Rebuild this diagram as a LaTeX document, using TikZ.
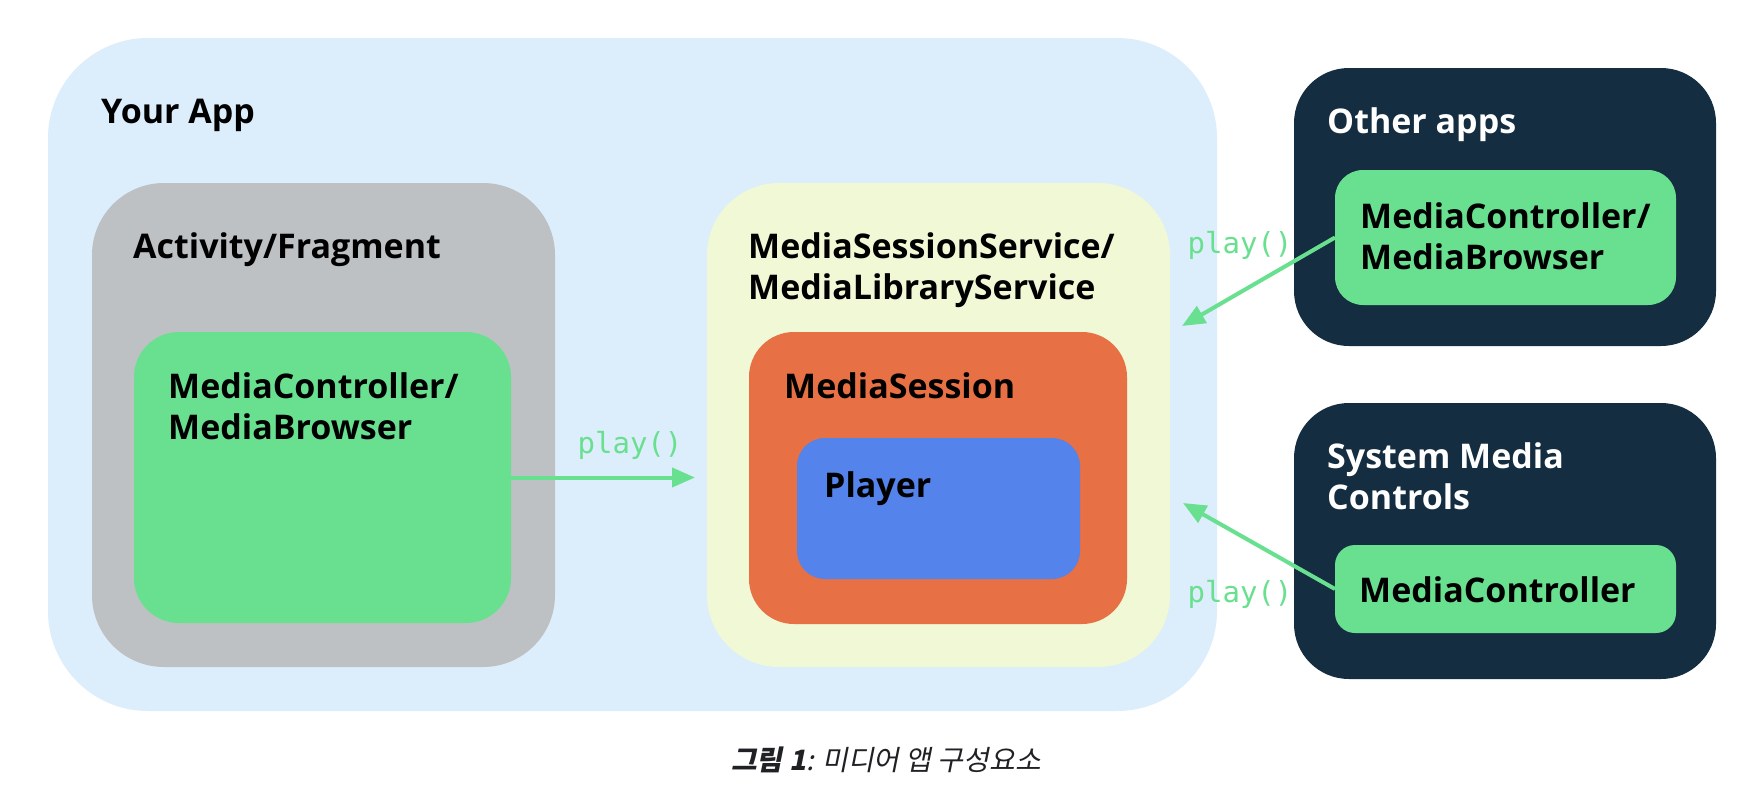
\documentclass[tikz,border=0pt]{standalone}
\usepackage{fontspec}
\setmainfont{Open Sans}
\newfontfamily\monofont{DejaVu Sans Mono}
\newfontfamily\cjkfont[FakeSlant=0.2]{Noto Sans CJK KR}
\usetikzlibrary{arrows.meta}
\definecolor{appblue}{HTML}{DCEDFC}
\definecolor{actgray}{HTML}{BEC1C4}
\definecolor{mgreen}{HTML}{68E08F}
\definecolor{svcyellow}{HTML}{F0F8D5}
\definecolor{sessorange}{HTML}{E77045}
\definecolor{playerblue}{HTML}{5383EB}
\definecolor{navy}{HTML}{142D40}
\definecolor{captext}{HTML}{202124}
\begin{document}
\begin{tikzpicture}[x=1pt,y=-1pt,
  box/.style={rectangle, inner sep=0pt, outer sep=0pt, anchor=north west, draw=none},
  lbl/.style={anchor=base west, inner sep=0pt, font=\bfseries\fontsize{34}{41}\selectfont, align=left},
  call/.style={anchor=base, inner sep=0pt, font=\monofont\fontsize{29}{30}\selectfont, text=mgreen},
  arr/.style={draw=mgreen, line width=4pt, -{Triangle[length=23pt,width=19pt]}}]
\useasboundingbox[fill=white] (0,0) rectangle (1754,790);
% Your App
\node[box, fill=appblue, minimum width=1169pt, minimum height=673pt, rounded corners=100pt] (app) at (48,38) {};
\node[lbl] (applbl) at (101,123) {Your App};
% Activity/Fragment
\node[box, fill=actgray, minimum width=463pt, minimum height=484pt, rounded corners=72pt] (act) at (92,183) {};
\node[lbl] (actlbl) at (133,258) {Activity/Fragment};
\node[box, fill=mgreen, minimum width=377pt, minimum height=291pt, rounded corners=45pt] (actmc) at (134,332) {};
\node[lbl] (actmclbl) at (168,439) {MediaController/\\MediaBrowser};
% Service
\node[box, fill=svcyellow, minimum width=463pt, minimum height=484pt, rounded corners=72pt] (svc) at (707,183) {};
\node[lbl] (svclbl) at (748,299) {MediaSessionService/\\MediaLibraryService};
\node[box, fill=sessorange, minimum width=378pt, minimum height=292pt, rounded corners=45pt] (sess) at (749,332) {};
\node[lbl] (sesslbl) at (784,398) {MediaSession};
\node[box, fill=playerblue, minimum width=283pt, minimum height=141pt, rounded corners=28pt] (player) at (797,438) {};
\node[lbl] (playerlbl) at (824,497) {Player};
% Other apps
\node[box, fill=navy, minimum width=422pt, minimum height=278pt, rounded corners=55pt] (other) at (1294,68) {};
\node[lbl, text=white] (otherlbl) at (1327,133) {Other apps};
\node[box, fill=mgreen, minimum width=341pt, minimum height=135pt, rounded corners=28pt] (othermc) at (1335,170) {};
\node[lbl] (othermclbl) at (1360,269) {MediaController/\\MediaBrowser};
% System Media Controls
\node[box, fill=navy, minimum width=422pt, minimum height=276pt, rounded corners=55pt] (sys) at (1294,403) {};
\node[lbl, text=white] (syslbl) at (1327,509) {System Media\\Controls};
\node[box, fill=mgreen, minimum width=341pt, minimum height=88pt, rounded corners=20pt] (sysmc) at (1335,545) {};
\node[lbl] (sysmclbl) at (1359,602) {MediaController};
% connectors
\coordinate (t1) at (1182,326);
\coordinate (t2) at (1183,503);
\draw[arr, shorten >=12pt] (actmc.east) -- (actmc.east -| svc.west);
\draw[arr] (othermc.west) -- (t1);
\draw[arr] (sysmc.west) -- (t2);
\node[call] (call1) at (630,453) {play()};
\node[call] (call2) at (1240,253) {play()};
\node[call] (call3) at (1240,602) {play()};
% caption
\node[anchor=base, inner sep=0pt, text=captext, font=\cjkfont\fontsize{28}{30}\selectfont] (cap) at (886,770) {\textbf{그림 1}: 미디어 앱 구성요소};
\end{tikzpicture}
\end{document}
